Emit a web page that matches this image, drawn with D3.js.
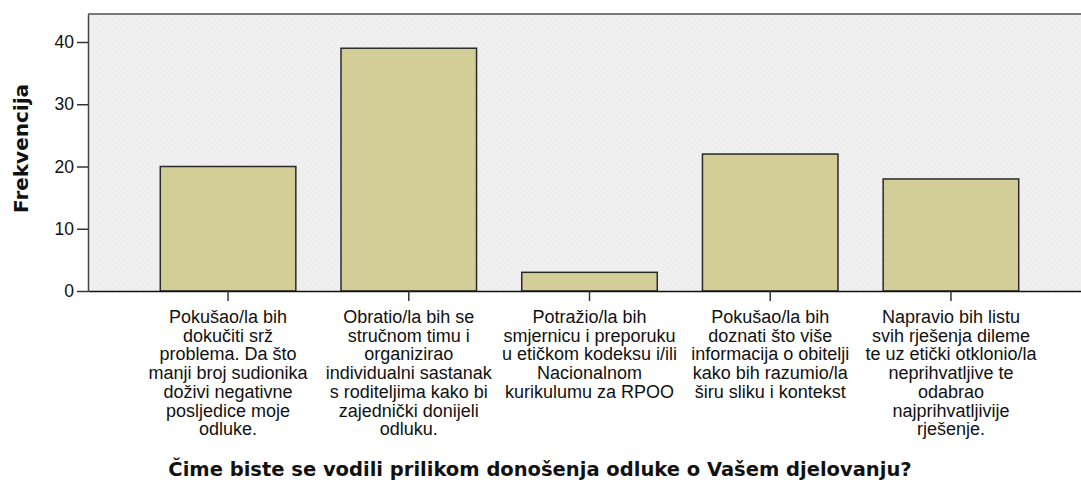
<!DOCTYPE html>
<html>
<head>
<meta charset="utf-8">
<script src="https://cdn.jsdelivr.net/npm/d3@7"></script>
<style>
  html, body { margin: 0; padding: 0; background: #ffffff; }
  svg { display: block; }
</style>
</head>
<body>
<svg id="chart" width="1081" height="484"></svg>
<script>
// ---- data ----
const categories = [
  "Pokušao/la bih dokučiti srž problema. Da što manji broj sudionika doživi negativne posljedice moje odluke.",
  "Obratio/la bih se stručnom timu i organizirao individualni sastanak s roditeljima kako bi zajednički donijeli odluku.",
  "Potražio/la bih smjernicu i preporuku u etičkom kodeksu i/ili Nacionalnom kurikulumu za RPOO",
  "Pokušao/la bih doznati što više informacija o obitelji kako bih razumio/la širu sliku i kontekst",
  "Napravio bih listu svih rješenja dileme te uz etički otklonio/la neprihvatljive te odabrao najprihvatljivije rješenje."
];
const categoryLines = [
  ["Pokušao/la bih", "dokučiti srž", "problema. Da što", "manji broj sudionika", "doživi negativne", "posljedice moje", "odluke."],
  ["Obratio/la bih se", "stručnom timu i", "organizirao", "individualni sastanak", "s roditeljima kako bi", "zajednički donijeli", "odluku."],
  ["Potražio/la bih", "smjernicu i preporuku", "u etičkom kodeksu i/ili", "Nacionalnom", "kurikulumu za RPOO"],
  ["Pokušao/la bih", "doznati što više", "informacija o obitelji", "kako bih razumio/la", "širu sliku i kontekst"],
  ["Napravio bih listu", "svih rješenja dileme", "te uz etički otklonio/la", "neprihvatljive te", "odabrao", "najprihvatljivije", "rješenje."]
];
const frequencies = [20, 39, 3, 22, 18];
const yTicks = [0, 10, 20, 30, 40];
const yMax = 44.5;
const yTitle = "Frekvencija";
const xTitle = "Čime biste se vodili prilikom donošenja odluke o Vašem djelovanju?";

// ---- layout ----
const svg = d3.select("#chart");
const W = 1081, H = 484;
const plot = { left: 88, top: 14, bottom: 291, right: 1091 };

const x = d3.scaleBand()
  .domain(categories)
  .range([plot.left, plot.right])
  .paddingInner(0.25)
  .paddingOuter(0.4);

const y = d3.scaleLinear()
  .domain([0, yMax])
  .range([plot.bottom, plot.top]);

// background pattern (light gray with white dots)
const defs = svg.append("defs");
const pat = defs.append("pattern")
  .attr("id", "dots")
  .attr("width", 6).attr("height", 6)
  .attr("patternUnits", "userSpaceOnUse");
pat.append("rect").attr("width", 6).attr("height", 6).attr("fill", "#eeeeee");
pat.append("rect").attr("x", 1).attr("y", 1).attr("width", 1).attr("height", 1).attr("fill", "#fcfcfc");
pat.append("rect").attr("x", 4).attr("y", 4).attr("width", 1).attr("height", 1).attr("fill", "#fcfcfc");

svg.append("rect")
  .attr("x", plot.left)
  .attr("y", plot.top)
  .attr("width", W - plot.left)
  .attr("height", plot.bottom - plot.top)
  .attr("fill", "url(#dots)");

// top frame line
svg.append("line")
  .attr("x1", plot.left).attr("x2", W)
  .attr("y1", plot.top).attr("y2", plot.top)
  .attr("stroke", "#7a7a7a").attr("stroke-width", 2);

// bars
svg.append("g").selectAll("rect")
  .data(frequencies)
  .join("rect")
  .attr("x", (d, i) => x(categories[i]))
  .attr("y", d => y(d))
  .attr("width", x.bandwidth())
  .attr("height", d => y(0) - y(d))
  .attr("fill", "#d3ce97")
  .attr("stroke", "#2a2a2a")
  .attr("stroke-width", 1.5);

const labelFont = "'Liberation Sans', Arial, sans-serif";

// y axis
const yAxis = svg.append("g")
  .attr("transform", `translate(${plot.left},0)`)
  .call(d3.axisLeft(y).tickValues(yTicks).tickFormat(d3.format("d")).tickSize(11).tickSizeOuter(0).tickPadding(3));
yAxis.select(".domain").attr("stroke", "#444").attr("stroke-width", 1.5);
yAxis.selectAll(".tick line").attr("stroke", "#333").attr("stroke-width", 1.5);
yAxis.selectAll(".tick text")
  .attr("font-family", labelFont)
  .attr("font-size", 17.5)
  .attr("fill", "#111");

// x axis
const xAxis = svg.append("g")
  .attr("transform", `translate(0,${plot.bottom})`)
  .call(d3.axisBottom(x).tickSize(10).tickSizeOuter(0).tickFormat(""));
xAxis.select(".domain").attr("stroke", "#111").attr("stroke-width", 1.5);
xAxis.selectAll(".tick line").attr("stroke", "#333").attr("stroke-width", 1.5);

// multi-line category labels
xAxis.selectAll(".tick").each(function(d, i) {
  const t = d3.select(this).append("text")
    .attr("text-anchor", "middle")
    .attr("font-family", labelFont)
    .attr("font-size", 18)
    .attr("fill", "#111");
  categoryLines[i].forEach((line, k) => {
    t.append("tspan")
      .attr("x", 0)
      .attr("y", 32 + k * 18.7)
      .text(line);
  });
});

// y title
svg.append("text")
  .attr("transform", `translate(28,${(plot.top + plot.bottom) / 2 - 4}) rotate(-90)`)
  .attr("text-anchor", "middle")
  .attr("font-family", "'DejaVu Sans', Verdana, sans-serif")
  .attr("font-weight", "bold")
  .attr("font-size", 20)
  .attr("fill", "#111")
  .text(yTitle);

// x title
const xt = svg.append("text")
  .attr("x", 540)
  .attr("y", 476)
  .attr("text-anchor", "middle")
  .attr("font-family", "'DejaVu Sans', Verdana, sans-serif")
  .attr("font-weight", "bold")
  .attr("font-size", 18)
  .attr("fill", "#111")
  .text(xTitle);
// fit title width to reference (~744px)
const len = xt.node().getComputedTextLength();
if (len > 0) xt.attr("font-size", 18 * 744 / len);
</script>
</body>
</html>
